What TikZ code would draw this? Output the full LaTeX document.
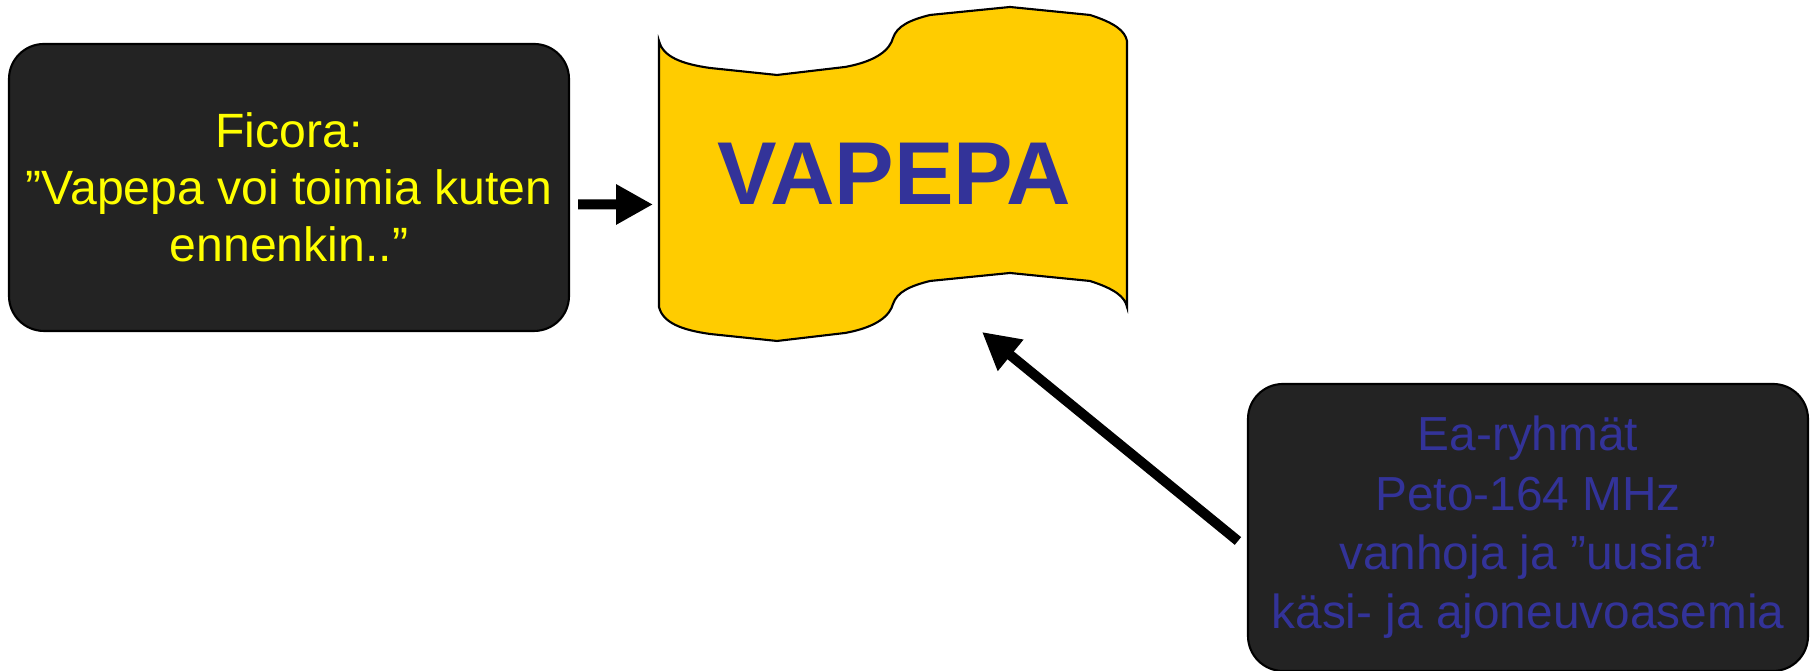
\documentclass[tikz,border=0pt]{standalone}
\usepackage{fontspec}
\setmainfont{Liberation Sans}
\usetikzlibrary{arrows.meta}
\definecolor{boxgray}{HTML}{232323}
\definecolor{flagyellow}{HTML}{FFCC00}
\definecolor{textblue}{HTML}{333399}
\definecolor{textyellow}{HTML}{FFFF00}
\begin{document}
\begin{tikzpicture}[
        darkbox/.style={draw=black, line width=0.6pt, fill=boxgray, rounded corners=0.35cm,
            minimum width=5.6cm, minimum height=2.87cm, align=center, inner sep=0pt},
        fatarrow/.style={line width=0.1cm, -{Triangle[length=0.37cm,width=0.38cm]}}
    ]
    \useasboundingbox (0,0) rectangle (18.12,6.71);
    % the VAPEPA flag
    \draw[line width=0.6pt, fill=flagyellow]
        (6.59,6.30) .. controls (6.63,6.14) and (6.82,6.07) .. (7.10,6.03) -- (7.77,5.96)
        -- (8.45,6.04) .. controls (8.78,6.10) and (8.90,6.22) .. (8.93,6.33)
        .. controls (8.97,6.45) and (9.10,6.51) .. (9.30,6.56) -- (10.10,6.64) -- (10.90,6.56)
        .. controls (11.15,6.48) and (11.25,6.40) .. (11.27,6.30) -- (11.27,3.64)
        .. controls (11.25,3.74) and (11.15,3.82) .. (10.90,3.90) -- (10.10,3.98) -- (9.30,3.90)
        .. controls (9.10,3.85) and (8.97,3.79) .. (8.93,3.67)
        .. controls (8.90,3.56) and (8.78,3.44) .. (8.45,3.38) -- (7.77,3.30) -- (7.10,3.37)
        .. controls (6.82,3.41) and (6.63,3.48) .. (6.59,3.64) -- cycle;
    \node[textblue, font=\fontsize{25.4}{28}\selectfont\bfseries] (vapepa) at (8.94,4.97) {VAPEPA};
    \coordinate (flagwest) at (6.53,4.665);
    \coordinate (flagbelow) at (9.82,3.39);

    \node[darkbox, text=textyellow, font=\fontsize{13.7}{16.2}\selectfont] (ficora) at (2.89,4.835)
        {Ficora:\\”Vapepa voi toimia kuten\\ennenkin..”};
    \node[darkbox, text=textblue, font=\fontsize{13.6}{16.9}\selectfont] (radio) at (15.28,1.435)
        {Ea-ryhmät\\Peto-164 MHz\\vanhoja ja ”uusia”\\käsi- ja ajoneuvoasemia};

    \draw[fatarrow] ([shift={(0.08,-0.17)}]ficora.east) -- (flagwest);
    \draw[fatarrow] ([shift={(-0.09,-0.135)}]radio.west) -- (flagbelow);
\end{tikzpicture}
\end{document}
